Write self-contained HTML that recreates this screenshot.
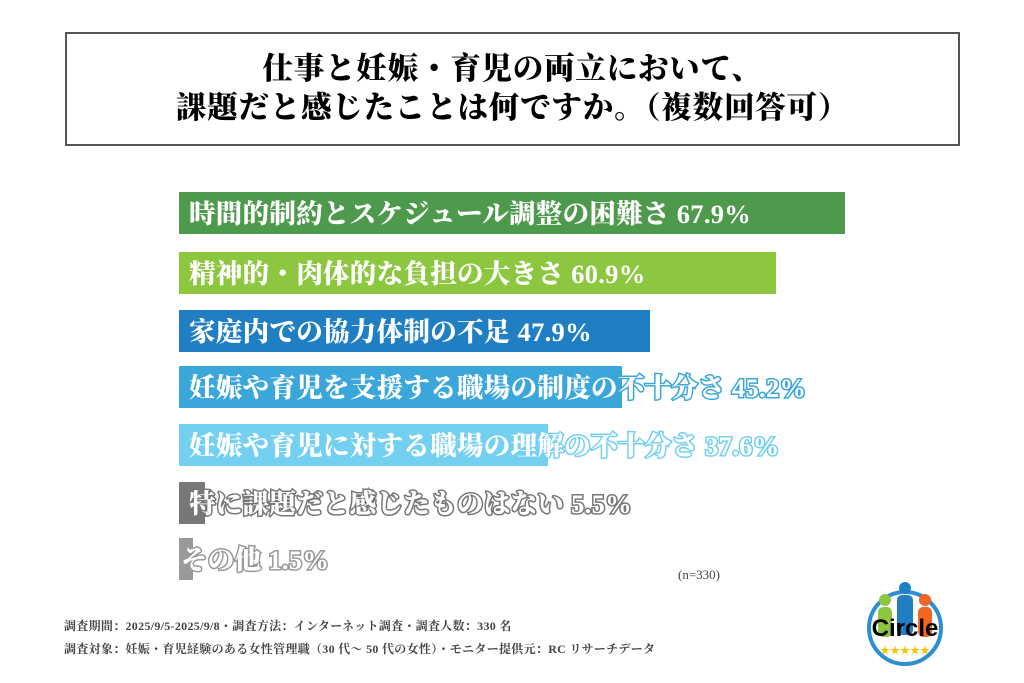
<!DOCTYPE html>
<html><head><meta charset="utf-8"><style>
body{margin:0;width:1024px;height:683px;background:#fff;position:relative;overflow:hidden;font-family:"Liberation Serif","Noto Serif CJK SC",serif}
.t{position:absolute;left:65px;top:32px;width:891px;height:110px;border:2px solid #555;text-align:center;font-weight:900;font-size:30.5px;line-height:39px;box-sizing:content-box;letter-spacing:0.8px}
.t div{padding-top:16px}
.bar{position:absolute;left:179px;height:42px}
.lb{position:absolute;left:189px;font-weight:900;font-size:26.5px;color:#fff;white-space:nowrap;line-height:44px;letter-spacing:0.3px}
.f{position:absolute;left:64px;font-size:12px;color:#444;font-weight:bold;letter-spacing:0.3px}
</style></head><body>
<div class="t"><div>仕事と妊娠・育児の両立において、<br>課題だと感じたことは何ですか。（複数回答可）</div></div>
<div class="bar" style="top:192px;width:666px;background:#4e9a4c"></div>
<div class="bar" style="top:252px;width:597px;background:#8dc63f"></div>
<div class="bar" style="top:310px;width:471px;background:#1f7fc2"></div>
<div class="bar" style="top:366px;width:443px;background:#3aa6da"></div>
<div class="bar" style="top:424px;width:369px;background:#74d0f1"></div>
<div class="bar" style="top:482px;width:26px;background:#777"></div>
<div class="bar" style="top:538px;width:14px;background:#999"></div>
<div class="lb" style="top:192px">時間的制約とスケジュール調整の困難さ 67.9%</div>
<div class="lb" style="top:252px">精神的・肉体的な負担の大きさ 60.9%</div>
<div class="lb" style="top:310px">家庭内での協力体制の不足 47.9%</div>
<div class="lb" style="top:366px;-webkit-text-stroke:3px #3aa6da;paint-order:stroke fill">妊娠や育児を支援する職場の制度の不十分さ 45.2%</div>
<div class="lb" style="top:424px;-webkit-text-stroke:3px #74d0f1;paint-order:stroke fill">妊娠や育児に対する職場の理解の不十分さ 37.6%</div>
<div class="lb" style="top:482px;-webkit-text-stroke:3px #777;paint-order:stroke fill">特に課題だと感じたものはない 5.5%</div>
<div class="lb" style="top:538px;left:181px;-webkit-text-stroke:3px #999;paint-order:stroke fill">その他 1.5%</div>
<div style="position:absolute;left:678px;top:567px;font-size:13px;color:#444">(n=330)</div>
<div class="f" style="top:617px">調査期間：2025/9/5-2025/9/8・調査方法：インターネット調査・調査人数：330 名</div>
<div class="f" style="top:640px">調査対象：妊娠・育児経験のある女性管理職（30 代～ 50 代の女性）・モニター提供元：RC リサーチデータ</div>
<svg style="position:absolute;left:860px;top:578px" width="90" height="92">
<circle cx="45" cy="50" r="36" fill="none" stroke="#2e8fd0" stroke-width="4"/>
<circle cx="25" cy="22" r="6" fill="#8dc63f"/><rect x="18" y="29" width="14" height="30" rx="5" fill="#8dc63f"/>
<circle cx="65" cy="22" r="6" fill="#f26522"/><rect x="58" y="29" width="14" height="30" rx="5" fill="#f26522"/>
<circle cx="45" cy="10" r="6" fill="#1f7fc2"/><rect x="37" y="17" width="16" height="40" rx="5" fill="#1f7fc2"/>
<text x="45" y="58" text-anchor="middle" font-family="Liberation Sans,sans-serif" font-weight="bold" font-size="24" fill="#000">Circle</text>
<text x="45" y="76" text-anchor="middle" font-size="10" fill="#f5c400">★★★★★</text>
</svg>
</body></html>
